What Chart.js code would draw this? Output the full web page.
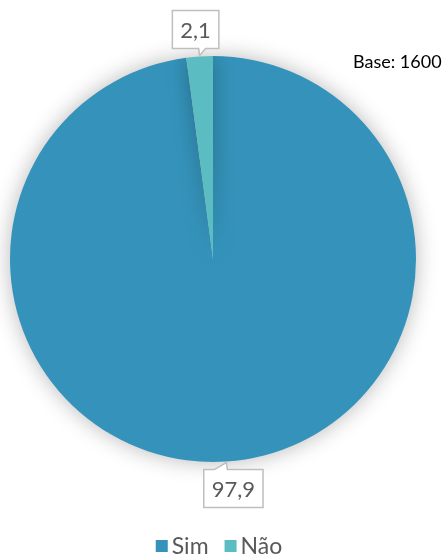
<!DOCTYPE html>
<html lang="pt">
<head>
<meta charset="UTF-8">
<title>Pie</title>
<script src="https://cdn.jsdelivr.net/npm/chart.js@4.4.1/dist/chart.umd.min.js"></script>
<style>
  html, body { margin: 0; padding: 0; background: #fff; }
  #wrap { width: 448px; height: 557px; }
</style>
</head>
<body>
<div id="wrap"><canvas id="c" width="448" height="557"></canvas></div>
<script>
const categories = ['Sim', 'Não'];
const values = [97.9, 2.1];
const colors = ['#3593bb', '#5bbcc1'];
const baseText = 'Base: 1600';

const FONT = 'Lato, "Open Sans", sans-serif';

// soft shadow behind the pie
const shadowPlugin = {
  id: 'pieShadow',
  beforeDatasetsDraw(chart) {
    const ctx = chart.ctx;
    ctx.save();
    ctx.shadowColor = 'rgba(0,0,0,0.28)';
    ctx.shadowBlur = 22;
  },
  afterDatasetsDraw(chart) {
    chart.ctx.restore();
  }
};

// callout labels + base note + legend
const calloutPlugin = {
  id: 'callouts',
  afterDraw(chart) {
    const ctx = chart.ctx;
    const meta = chart.getDatasetMeta(0);
    ctx.save();
    ctx.font = '22px ' + FONT;
    ctx.textAlign = 'center';
    ctx.textBaseline = 'middle';
    meta.data.forEach((arc, i) => {
      const p = arc.getProps(['x', 'y', 'startAngle', 'endAngle', 'outerRadius'], true);
      const mid = (p.startAngle + p.endAngle) / 2;
      const tx = p.x + Math.cos(mid) * p.outerRadius;
      const ty = p.y + Math.sin(mid) * p.outerRadius;
      const txt = values[i].toFixed(1).replace('.', ',');
      const w = ctx.measureText(txt).width + 16;
      const h = 38;
      const up = Math.sin(mid) < 0;
      const cx = up ? tx - 4 : tx + 7;
      const cy = up ? ty - 27 : ty + 27;
      const l = cx - w / 2, r = cx + w / 2, t = cy - h / 2, b = cy + h / 2;
      ctx.beginPath();
      if (up) {
        ctx.moveTo(l, t); ctx.lineTo(r, t); ctx.lineTo(r, b);
        ctx.lineTo(tx + 6, b); ctx.lineTo(tx, ty - 1); ctx.lineTo(tx - 1, b);
        ctx.lineTo(l, b); ctx.closePath();
      } else {
        ctx.moveTo(l, t); ctx.lineTo(tx - 12, t); ctx.lineTo(tx, ty + 1);
        ctx.lineTo(tx + 1, t); ctx.lineTo(r, t); ctx.lineTo(r, b);
        ctx.lineTo(l, b); ctx.closePath();
      }
      ctx.fillStyle = '#ffffff';
      ctx.fill();
      ctx.strokeStyle = '#bfbfbf';
      ctx.lineWidth = 1.5;
      ctx.stroke();
      ctx.fillStyle = '#595959';
      ctx.fillText(txt, cx, cy + 1);
    });

    // base note
    ctx.font = '18px ' + FONT;
    ctx.fillStyle = '#000000';
    ctx.textAlign = 'left';
    ctx.fillText(baseText, 353, 62);

    // legend
    ctx.font = '23px ' + FONT;
    const box = 12, gapText = 4, gapItem = 16;
    let total = 0;
    const widths = chart.data.labels.map(lb => ctx.measureText(lb).width);
    widths.forEach((tw, i) => { total += box + gapText + tw + (i ? gapItem : 0); });
    let x = 219 - total / 2;
    const ly = 546;
    chart.data.labels.forEach((lb, i) => {
      ctx.fillStyle = chart.data.datasets[0].backgroundColor[i];
      ctx.fillRect(x, ly - box / 2, box, box);
      x += box + gapText;
      ctx.fillStyle = '#595959';
      ctx.fillText(lb, x, ly + 1);
      x += widths[i] + gapItem;
    });
    ctx.restore();
  }
};

new Chart(document.getElementById('c'), {
  type: 'pie',
  data: {
    labels: categories,
    datasets: [{
      data: values,
      backgroundColor: colors,
      borderWidth: 0
    }]
  },
  options: {
    responsive: false,
    animation: false,
    layout: { padding: { top: 56, left: 0, right: 22, bottom: 95 } },
    plugins: {
      legend: { display: false },
      tooltip: { enabled: false }
    }
  },
  plugins: [shadowPlugin, calloutPlugin]
});
</script>
</body>
</html>
